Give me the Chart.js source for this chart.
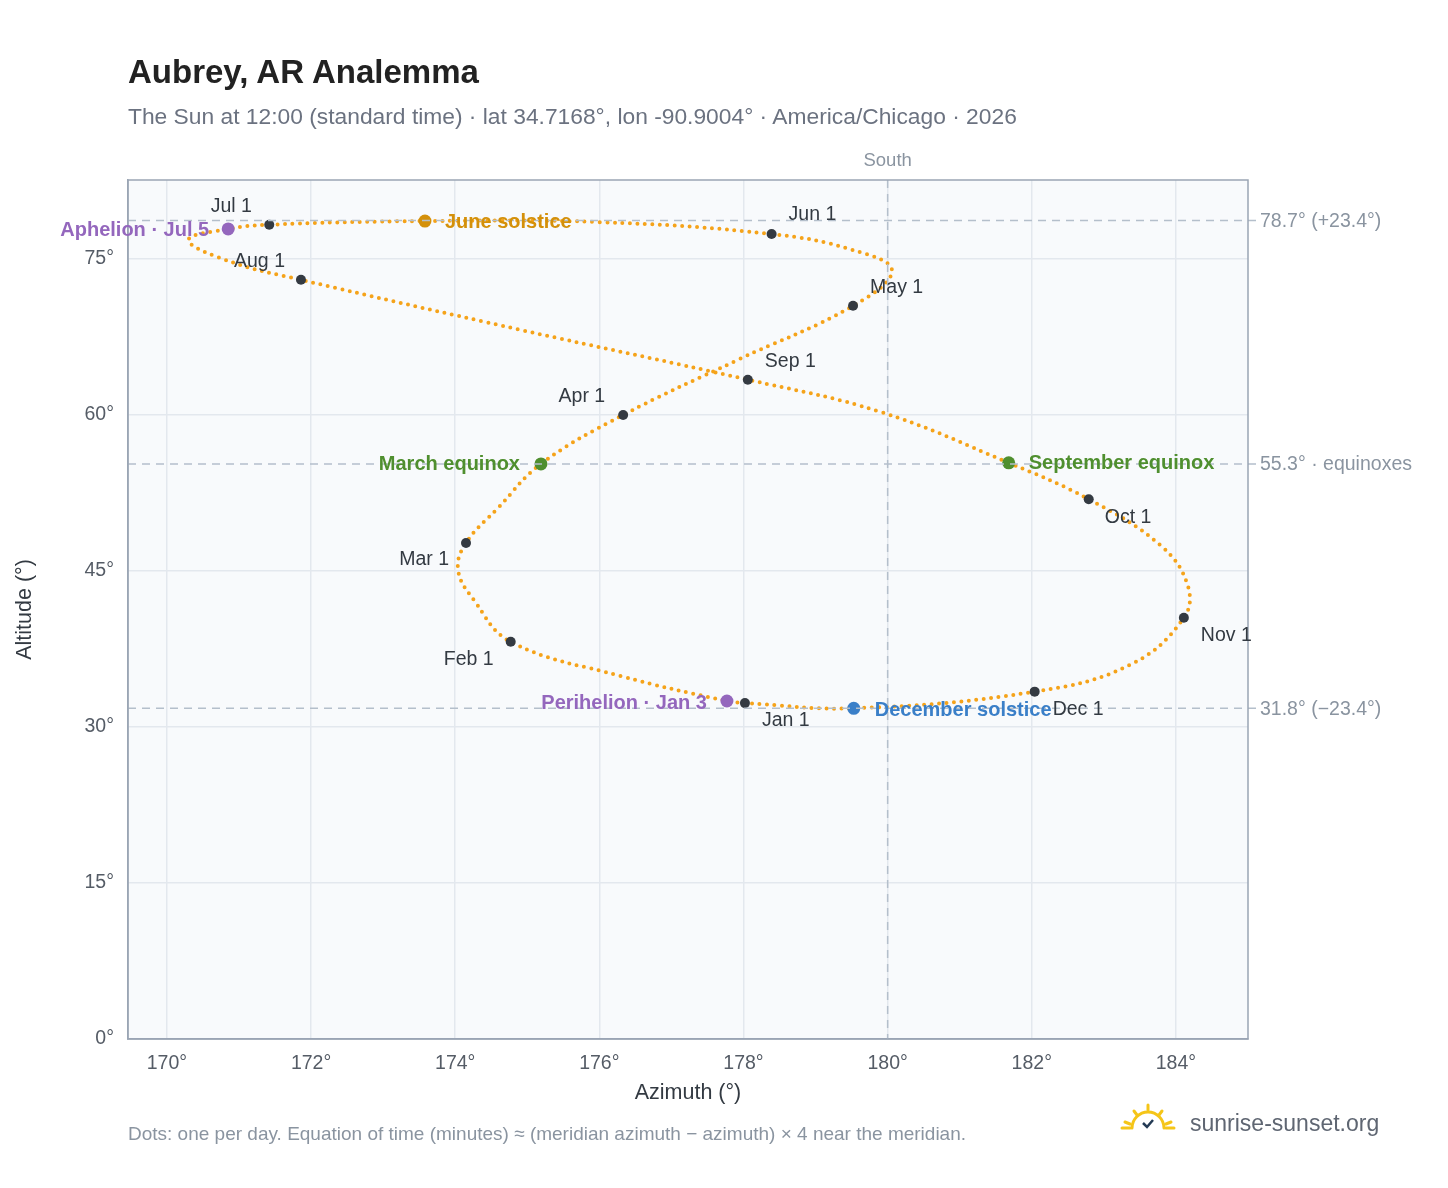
<!DOCTYPE html>
<html><head><meta charset="utf-8">
<script src="https://cdn.jsdelivr.net/npm/chart.js@4"></script>
<style>
body{margin:0;background:#fff;font-family:"Liberation Sans",Arial,sans-serif;}
#wrap{position:relative;width:1448px;height:1188px;}
canvas{position:absolute;left:0;top:0;}
.t{position:absolute;white-space:nowrap;}
</style></head><body>
<div id="wrap">
<canvas id="c" width="1448" height="1188"></canvas>
<div class="t" style="left:128px;top:53px;font-size:33px;font-weight:bold;color:#222;">Aubrey, AR Analemma</div>
<div class="t" style="left:128px;top:103px;font-size:22.8px;color:#6b7280;">The Sun at 12:00 (standard time) · lat 34.7168°, lon -90.9004° · America/Chicago · 2026</div>
<div class="t" style="left:128px;top:1123px;font-size:19px;color:#8a94a0;">Dots: one per day. Equation of time (minutes) ≈ (meridian azimuth − azimuth) × 4 near the meridian.</div>
<svg class="t" style="left:1120px;top:1100px" width="56" height="36" viewBox="0 0 56 36">
<g stroke="#f5c518" stroke-width="3" fill="none" stroke-linecap="round">
<path d="M12 28 A16 16 0 0 1 44 28"/><line x1="28" y1="5" x2="28" y2="10"/><line x1="14" y1="11" x2="17" y2="15"/><line x1="42" y1="11" x2="39" y2="15"/><line x1="5" y1="22" x2="10" y2="24"/><line x1="51" y1="22" x2="46" y2="24"/><line x1="2" y1="28" x2="10" y2="28"/><line x1="46" y1="28" x2="54" y2="28"/></g>
<path d="M23 23 L27 27 L33 20" stroke="#243b55" stroke-width="2.5" fill="none"/></svg>
<div class="t" style="left:1190px;top:1110px;font-size:23px;color:#5f6672;">sunrise-sunset.org</div>
</div>
<script>
// Path through the year
const pathAz  = [178.02,177.77,176.3,174.77,174.26,174.04,174.15,174.6,175.19,176.33,177.92,179.52,180.06,179.5,178.39,176.0,173.58,171.42,170.85,170.3,170.9,171.86,174.9,178.06,179.9,181.68,182.79,183.78,184.16,184.11,183.37,182.04,179.53,178.02];
const pathAlt = [32.3,32.5,34.9,38.2,42.2,45.1,47.7,51.1,55.3,60.0,65.3,70.5,73.9,75.9,77.4,78.55,78.65,78.3,77.9,76.8,74.7,73.0,68.2,63.4,60.3,55.4,51.9,47.5,43.7,40.5,36.0,33.4,31.8,32.3];
// Month markers
const monthNames = ["Jan 1","Feb 1","Mar 1","Apr 1","May 1","Jun 1","Jul 1","Aug 1","Sep 1","Oct 1","Nov 1","Dec 1"];
const monthAz  = [178.02,174.77,174.15,176.33,179.52,178.39,171.42,171.86,178.06,182.79,184.11,182.04];
const monthAlt = [32.3,38.2,47.7,60.0,70.5,77.4,78.3,73.0,63.4,51.9,40.5,33.4];
// Special events
const eventNames = ["June solstice","Aphelion · Jul 5","March equinox","September equinox","Perihelion · Jan 3","December solstice"];
const eventAz  = [173.58,170.85,175.19,181.68,177.77,179.53];
const eventAlt = [78.65,77.9,55.3,55.4,32.5,31.8];
const eventColors = ["#d4900a","#9467bd","#4f8f2f","#4f8f2f","#9467bd","#3a7fc8"];
// Reference lines
const refAlt = [78.7,55.3,31.8];
const refLabels = ["78.7° (+23.4°)","55.3° · equinoxes","31.8° (−23.4°)"];
const xTicks = [170,172,174,176,178,180,182,184];
const yTicks = [0,15,30,45,60,75];

const monthOff = [[17,18,'left'],[-17,18,'right'],[-17,17,'right'],[-18,-18,'right'],[17,-18,'left'],[17,-19,'left'],[-38,-18,'center'],[-16,-18,'right'],[17,-18,'left'],[16,18,'left'],[17,18,'left'],[18,18,'left']];
const eventOff = [[20,1,'left'],[-19,2,'right'],[-21,1,'right'],[20,1,'left'],[-20,2,'right'],[21,2,'left']];
const F='"Liberation Sans",Arial';

const overlay = {
  id:'overlay',
  beforeDraw(ch){
    const {ctx,chartArea:a} = ch;
    ctx.save();
    ctx.fillStyle='#f8fafc'; ctx.fillRect(a.left,a.top,a.right-a.left,a.bottom-a.top);
    ctx.restore();
  },
  afterDatasetsDraw(ch){
    const {ctx,chartArea:a,scales:{x,y}} = ch;
    ctx.save();
    ctx.setLineDash([8,6]); ctx.strokeStyle='#b4bfcb'; ctx.lineWidth=1.5;
    refAlt.forEach((v,i)=>{const py=y.getPixelForValue(v);ctx.beginPath();ctx.moveTo(a.left,py);ctx.lineTo(a.right+12,py);ctx.stroke();});
    const sx=x.getPixelForValue(180);ctx.beginPath();ctx.moveTo(sx,a.top);ctx.lineTo(sx,a.bottom);ctx.stroke();
    ctx.setLineDash([]);
    ctx.strokeStyle='#9aa5b4';ctx.lineWidth=1.5;ctx.strokeRect(a.left,a.top,a.right-a.left,a.bottom-a.top);
    ctx.font='19.5px '+F;ctx.fillStyle='#8a94a0';ctx.textBaseline='middle';ctx.textAlign='left';
    refAlt.forEach((v,i)=>ctx.fillText(refLabels[i],a.right+12,y.getPixelForValue(v)+1));
    ctx.textAlign='center';ctx.font='18.5px '+F;ctx.fillText('South',sx,a.top-19);
    ctx.font='19.5px '+F;ctx.fillStyle='#333a42';
    monthNames.forEach((n,i)=>{const o=monthOff[i];ctx.textAlign=o[2];ctx.fillText(n,x.getPixelForValue(monthAz[i])+o[0],y.getPixelForValue(monthAlt[i])+o[1]);});
    ctx.font='bold 20px '+F;
    eventNames.forEach((n,i)=>{const o=eventOff[i];ctx.textAlign=o[2];ctx.fillStyle=eventColors[i];ctx.fillText(n,x.getPixelForValue(eventAz[i])+o[0],y.getPixelForValue(eventAlt[i])+o[1]);});
    ctx.restore();
  }
};

new Chart(document.getElementById('c'),{
  type:'scatter',
  data:{datasets:[
    {data:pathAz.map((v,i)=>({x:v,y:pathAlt[i]})),showLine:true,tension:0.4,borderColor:'#f5a31a',borderWidth:4,borderDash:[0,7.5],borderCapStyle:'round',pointRadius:0,order:3},
    {data:monthAz.map((v,i)=>({x:v,y:monthAlt[i]})),pointRadius:5,backgroundColor:'#343a42',borderWidth:0,order:2},
    {data:eventAz.map((v,i)=>({x:v,y:eventAlt[i]})),pointRadius:6.5,backgroundColor:eventColors,borderWidth:0,order:1}
  ]},
  options:{
    responsive:false,animation:false,
    layout:{padding:{left:0,top:180,right:200,bottom:78}},
    plugins:{legend:{display:false},tooltip:{enabled:false}},
    scales:{
      x:{min:169.46,max:185.0,afterBuildTicks(s){s.ticks=xTicks.map(v=>({value:v}));},
        afterFit(s){s.height=71;},
        ticks:{callback:v=>v+'°',font:{size:19.5,family:F},color:'#555c66',padding:13},
        grid:{color:'#e3e8ee',lineWidth:1.5,drawTicks:false},border:{color:'#9aa5b4',width:1.5},
        title:{display:true,text:'Azimuth (°)',font:{size:21.5,family:F},color:'#333a42',padding:{top:4}}},
      y:{min:0,max:82.6,afterBuildTicks(s){s.ticks=yTicks.map(v=>({value:v}));},
        afterFit(s){s.width=128;},
        ticks:{callback:v=>v+'°',font:{size:19.5,family:F},color:'#555c66',padding:14},
        grid:{color:'#e3e8ee',lineWidth:1.5,drawTicks:false},border:{color:'#9aa5b4',width:1.5},
        title:{display:true,text:'Altitude (°)',font:{size:21.5,family:F},color:'#333a42',padding:{top:12,bottom:4}}}
    }
  },
  plugins:[overlay]
});
</script>
</body></html>
